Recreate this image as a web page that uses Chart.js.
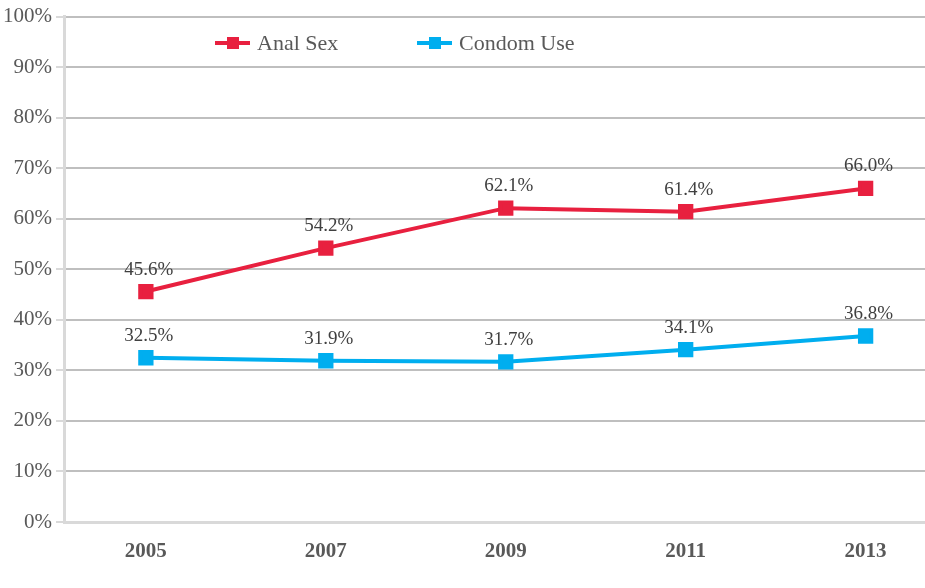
<!DOCTYPE html>
<html>
<head>
<meta charset="utf-8">
<script src="https://cdn.jsdelivr.net/npm/chart.js@4/dist/chart.umd.min.js"></script>
<style>
  html, body { margin: 0; padding: 0; background: #fff; }
  #wrap { position: relative; width: 925px; height: 588px; }
  .legend { position: absolute; top: 30px; font-family: "Liberation Serif", serif; font-size: 22px; color: #595959; display: flex; align-items: center; }
  .mark { position: relative; width: 35px; height: 4px; margin-right: 7px; }
  .mark span { position: absolute; left: 12px; top: -4px; width: 12px; height: 12px; }
</style>
</head>
<body>
<div id="wrap">
  <canvas id="myChart" width="925" height="588"></canvas>
  <div class="legend" style="left:215px"><div class="mark" style="background:#e8203f"><span style="background:#e8203f"></span></div>Anal Sex</div>
  <div class="legend" style="left:417px"><div class="mark" style="background:#00aeef"><span style="background:#00aeef"></span></div>Condom Use</div>
</div>
<script>
const years = [2005, 2007, 2009, 2011, 2013];
const analSex = [45.6, 54.2, 62.1, 61.4, 66.0];
const condomUse = [32.5, 31.9, 31.7, 34.1, 36.8];
const yTicks = [0, 10, 20, 30, 40, 50, 60, 70, 80, 90, 100];

const toPoints = (vals) => vals.map((v, i) => ({ x: years[i], y: v }));

// draws value labels above each point
const valueLabels = {
  id: 'valueLabels',
  afterDatasetsDraw(chart) {
    const ctx = chart.ctx;
    ctx.save();
    ctx.font = '19px "Liberation Serif", serif';
    ctx.fillStyle = '#404040';
    ctx.textAlign = 'center';
    ctx.textBaseline = 'middle';
    chart.data.datasets.forEach((ds, di) => {
      chart.getDatasetMeta(di).data.forEach((pt, i) => {
        ctx.fillText(ds.data[i].y.toFixed(1) + '%', pt.x + 3, pt.y - 22);
      });
    });
    ctx.restore();
  }
};

var ctx = document.getElementById('myChart').getContext('2d');
var myChart = new Chart(ctx, {
  type: 'line',
  data: {
    datasets: [{
      label: 'Anal Sex',
      data: toPoints(analSex),
      borderColor: '#e8203f',
      backgroundColor: '#e8203f',
      borderWidth: 4,
      pointStyle: 'rect',
      pointRadius: 8,
      pointHoverRadius: 8,
      fill: false,
    }, {
      label: 'Condom Use',
      data: toPoints(condomUse),
      borderColor: '#00aeef',
      backgroundColor: '#00aeef',
      borderWidth: 4,
      pointStyle: 'rect',
      pointRadius: 8,
      pointHoverRadius: 8,
      fill: false,
    }]
  },
  options: {
    responsive: false,
    animation: false,
    layout: { autoPadding: false, padding: { top: 14, right: 0, left: 0, bottom: 0 } },
    plugins: {
      legend: { display: false },
      tooltip: { enabled: false }
    },
    scales: {
      x: {
        type: 'linear',
        min: 2004.09,
        max: 2013.66,
        afterBuildTicks: (scale) => { scale.ticks = years.map(v => ({ value: v })); },
        afterFit: (scale) => { scale.height = 66; },
        grid: { display: false },
        border: { display: true, color: '#d9d9d9', width: 3 },
        ticks: {
          color: '#595959',
          padding: 9,
          font: { family: '"Liberation Serif", serif', size: 21, weight: 'bold' },
          callback: (v) => String(v)
        }
      },
      y: {
        min: 0,
        max: 100,
        afterBuildTicks: (scale) => { scale.ticks = yTicks.map(v => ({ value: v })); },
        afterFit: (scale) => { scale.width = 64; },
        grid: { color: '#bfbfbf', lineWidth: 2, tickColor: '#d9d9d9', tickLength: 8 },
        border: { display: true, color: '#d9d9d9', width: 3 },
        ticks: {
          color: '#595959',
          padding: 4,
          font: { family: '"Liberation Serif", serif', size: 21 },
          callback: (v) => v + '%'
        }
      }
    }
  },
  plugins: [valueLabels]
});
</script>
</body>
</html>
